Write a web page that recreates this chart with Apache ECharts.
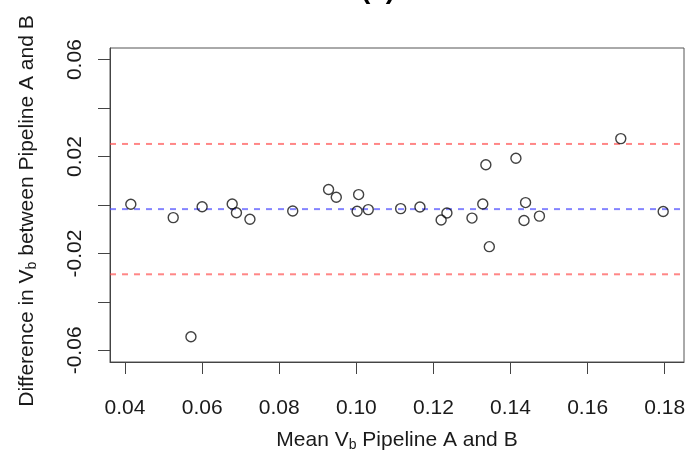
<!DOCTYPE html>
<html>
<head>
<meta charset="utf-8">
<script src="https://cdn.jsdelivr.net/npm/echarts@6/dist/echarts.min.js"></script>
<style>
  html, body { margin: 0; padding: 0; background: #fff; }
  #chart { width: 689px; height: 457px; }
</style>
</head>
<body>
<div id="chart"></div>
<script>
// Bland-Altman comparison of Vb from two processing pipelines
const meanVb = [0.0415, 0.0525, 0.0571, 0.0600, 0.0678, 0.0689, 0.0724, 0.0835, 0.0928, 0.0948,
                0.1006, 0.1002, 0.1031, 0.1115, 0.1165, 0.1220, 0.1235, 0.1300, 0.1328, 0.1336,
                0.1345, 0.1414, 0.1439, 0.1435, 0.1475, 0.1686, 0.1796];
const diffVb = [0.0003, -0.0052, -0.0544, -0.0007, 0.0004, -0.0032, -0.0059, -0.0025, 0.0064, 0.0032,
                0.0043, -0.0026, -0.0019, -0.0015, -0.0008, -0.0062, -0.0033, -0.0054, 0.0004, 0.0166,
                -0.0172, 0.0193, 0.0010, -0.0064, -0.0046, 0.0274, -0.0027];

// mean difference and 95% limits of agreement
const meanDiff = -0.0017;
const limitsOfAgreement = [0.0252, -0.0286];

// axis extents and tick positions
const xRange = [0.0361, 0.1850];
const yRange = [-0.0648, 0.0648];
const xTicks = [0.04, 0.06, 0.08, 0.10, 0.12, 0.14, 0.16, 0.18];
const yTicks = [-0.06, -0.04, -0.02, 0, 0.02, 0.04, 0.06];
const yTickLabels = [-0.06, -0.02, 0.02, 0.06];

const FONT = '"Liberation Sans", Arial, Helvetica, sans-serif';
const TEXT = '#1a1a1a';

const points = meanVb.map((m, i) => [m, diffVb[i]]);

const chart = echarts.init(document.getElementById('chart'), null, { renderer: 'canvas' });

const refLine = (y, color) => ({
  type: 'line',
  data: [[xRange[0], y], [xRange[1], y]],
  symbol: 'none',
  silent: true,
  z: 1,
  lineStyle: { color: color, width: 2, type: [6, 6] },
  animation: false
});

const subRich = {
  m: { fontSize: 21, lineHeight: 22, color: TEXT, fontFamily: FONT, verticalAlign: 'top' },
  s: { fontSize: 14, lineHeight: 14, color: TEXT, fontFamily: FONT, verticalAlign: 'bottom', padding: [12, 0, 0, 0] }
};

chart.setOption({
  animation: false,
  backgroundColor: '#fff',
  textStyle: { fontFamily: FONT },
  graphic: [{
    type: 'text',
    x: 378,
    y: -10,
    style: {
      text: '(a)',
      font: 'bold 28px ' + FONT,
      fill: '#000',
      textAlign: 'center',
      textVerticalAlign: 'middle'
    }
  }],
  grid: {
    left: 110, right: 5, top: 48, bottom: 94,
    show: true, borderColor: '#555', borderWidth: 1
  },
  xAxis: {
    type: 'value',
    min: xRange[0], max: xRange[1],
    splitLine: { show: false },
    axisLine: { show: true, onZero: false, lineStyle: { color: '#444', width: 1 } },
    axisTick: { show: true, customValues: xTicks, length: 12, lineStyle: { color: '#444', width: 1 } },
    axisLabel: {
      customValues: xTicks,
      formatter: v => v.toFixed(2),
      fontSize: 21, color: TEXT, fontFamily: FONT, margin: 36
    },
    name: '{m|Mean V}{s|b}{m| Pipeline A and B}',
    nameLocation: 'middle',
    nameGap: 68,
    nameTextStyle: { rich: subRich }
  },
  yAxis: {
    type: 'value',
    min: yRange[0], max: yRange[1],
    splitLine: { show: false },
    axisLine: { show: true, onZero: false, lineStyle: { color: '#444', width: 1 } },
    axisTick: { show: true, customValues: yTicks, length: 12, lineStyle: { color: '#444', width: 1 } },
    axisLabel: {
      customValues: yTickLabels,
      formatter: v => v.toFixed(2),
      rotate: 90,
      fontSize: 21, color: TEXT, fontFamily: FONT, margin: 24
    },
    name: '{m|Difference in V}{s|b}{m| between Pipeline A and B}',
    nameLocation: 'middle',
    nameGap: 71,
    nameTextStyle: { rich: subRich, padding: [0, 12, 0, 0] }
  },
  series: [
    refLine(limitsOfAgreement[0], 'rgba(255, 70, 70, 0.65)'),
    refLine(limitsOfAgreement[1], 'rgba(255, 70, 70, 0.65)'),
    refLine(meanDiff, 'rgba(80, 80, 255, 0.7)'),
    {
      type: 'scatter',
      data: points,
      symbol: 'circle',
      symbolSize: 10,
      z: 3,
      itemStyle: { color: 'rgba(255,255,255,0)', borderColor: '#111', borderWidth: 1.4 },
      animation: false
    }
  ]
});
</script>
</body>
</html>
